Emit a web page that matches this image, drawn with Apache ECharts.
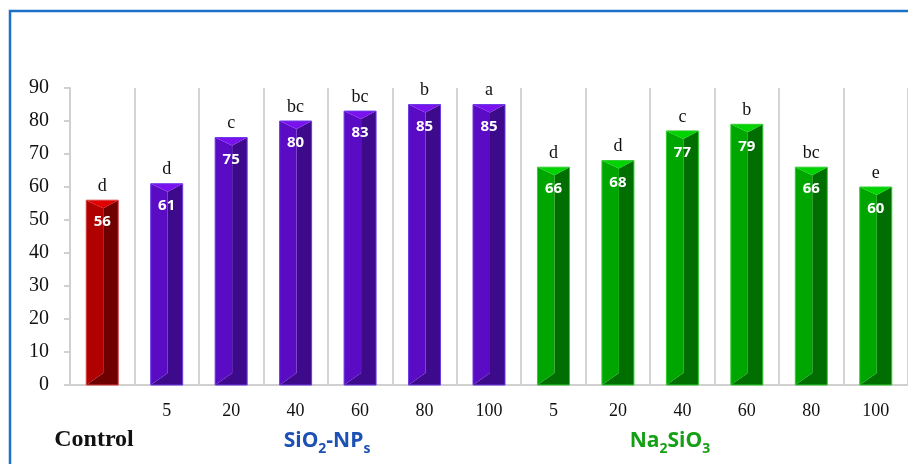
<!DOCTYPE html>
<html>
<head>
<meta charset="utf-8">
<script src="https://cdn.jsdelivr.net/npm/echarts@6/dist/echarts.min.js"></script>
<style>
  html, body { margin: 0; padding: 0; background: #ffffff; }
  #chart { width: 908px; height: 464px; }
</style>
</head>
<body>
<div id="chart"></div>
<script>
// Concentrations (mg/L) per treatment, control first
const categories = ['', '5', '20', '40', '60', '80', '100', '5', '20', '40', '60', '80', '100'];
const values = [56, 61, 75, 80, 83, 85, 85, 66, 68, 77, 79, 66, 60];
const letters = ['d', 'd', 'c', 'bc', 'bc', 'b', 'a', 'd', 'd', 'c', 'b', 'bc', 'e'];
const treatment = ['control', 'nano', 'nano', 'nano', 'nano', 'nano', 'nano',
                   'silicate', 'silicate', 'silicate', 'silicate', 'silicate', 'silicate'];
const yTicks = { min: 0, max: 90, interval: 10 };

// Bevelled bar shading: top cap, lit face, shaded face, outline
const palette = {
  control:  { top: '#e00000', left: '#b00000', right: '#6e0000', edge: '#d84040' },
  nano:     { top: '#7a12ee', left: '#5a0cc4', right: '#3d0a8c', edge: '#6c3ae6' },
  silicate: { top: '#00d400', left: '#00a600', right: '#006e00', edge: '#30cc30' }
};

const chart = echarts.init(document.getElementById('chart'), null, { renderer: 'canvas' });

function renderBar(params, api) {
  const i = api.value(0);
  const v = api.value(1);
  const top = api.coord([i, v]);
  const base = api.coord([i, 0]);
  const w = 32;
  const x0 = top[0] - w / 2, x1 = top[0] + w / 2, xc = top[0] + 1;
  const yt = top[1], yb = base[1];
  const h = 8;
  const c = palette[treatment[i]];
  return {
    type: 'group',
    children: [
      { type: 'polygon', shape: { points: [[xc, yt + h], [x1, yt], [x1, yb], [x0, yb], [xc, yb - h - 4]] },
        style: { fill: c.right } },
      { type: 'polygon', shape: { points: [[x0, yt], [xc, yt + h], [xc, yb - h - 4], [x0, yb]] },
        style: { fill: c.left } },
      { type: 'polygon', shape: { points: [[x0, yt], [x1, yt], [xc, yt + h]] },
        style: { fill: c.top } },
      { type: 'rect', shape: { x: x0, y: yt, width: w, height: yb - yt },
        style: { fill: 'none', stroke: c.edge, lineWidth: 1 } },
      { type: 'text', x: top[0], y: yt + 22,
        style: { text: String(v), fill: '#ffffff', font: 'bold 15px "Open Sans", sans-serif',
                 align: 'center', verticalAlign: 'middle' } },
      { type: 'text', x: top[0], y: yt - 14,
        style: { text: letters[i], fill: '#111111', font: '18px "Liberation Serif", serif',
                 align: 'center', verticalAlign: 'middle' } }
    ]
  };
}

const option = {
  animation: false,
  backgroundColor: '#ffffff',
  grid: { left: 70, top: 88, width: 841, height: 297, containLabel: false },
  xAxis: {
    type: 'category',
    data: categories,
    boundaryGap: true,
    axisLine: { show: true, lineStyle: { color: '#d0d0d0', width: 2 } },
    axisTick: { show: false },
    splitLine: { show: true, lineStyle: { color: '#d4d4d4', width: 2 } },
    axisLabel: { color: '#111111', fontFamily: '"Liberation Serif", serif', fontSize: 18, margin: 17 }
  },
  yAxis: {
    type: 'value',
    min: yTicks.min, max: yTicks.max, interval: yTicks.interval,
    axisLine: { show: true, lineStyle: { color: '#d0d0d0', width: 2 } },
    axisTick: { show: true, length: 6, lineStyle: { color: '#d0d0d0', width: 2 } },
    splitLine: { show: false },
    axisLabel: { color: '#111111', fontFamily: '"Liberation Serif", serif', fontSize: 20, margin: 21 }
  },
  series: [{
    type: 'custom',
    renderItem: renderBar,
    data: values.map((v, i) => [i, v]),
    encode: { x: 0, y: 1 },
    clip: false
  }],
  graphic: [
    { type: 'rect', shape: { x: 10, y: 11, width: 920, height: 480 },
      style: { fill: 'none', stroke: '#1e6fc6', lineWidth: 2.5 }, z: 10 },
    { type: 'text', x: 94, y: 440,
      style: { text: 'Control', fill: '#111111', font: 'bold 24px "Liberation Serif", serif',
               align: 'center', verticalAlign: 'middle' } },
    { type: 'text', x: 327, y: 441,
      style: {
        text: '{m|SiO}{s|2}{m|-NP}{s|s}',
        align: 'center', verticalAlign: 'middle',
        rich: {
          m: { fill: '#1c50b4', font: 'bold 21px "Open Sans", sans-serif', verticalAlign: 'middle' },
          s: { fill: '#1c50b4', font: 'bold 14px "Open Sans", sans-serif', padding: [16, 0, 0, 0] }
        }
      } },
    { type: 'text', x: 670, y: 441,
      style: {
        text: '{m|Na}{s|2}{m|SiO}{s|3}',
        align: 'center', verticalAlign: 'middle',
        rich: {
          m: { fill: '#14a014', font: 'bold 21px "Open Sans", sans-serif', verticalAlign: 'middle' },
          s: { fill: '#14a014', font: 'bold 14px "Open Sans", sans-serif', padding: [16, 0, 0, 0] }
        }
      } }
  ]
};

chart.setOption(option);
</script>
</body>
</html>
